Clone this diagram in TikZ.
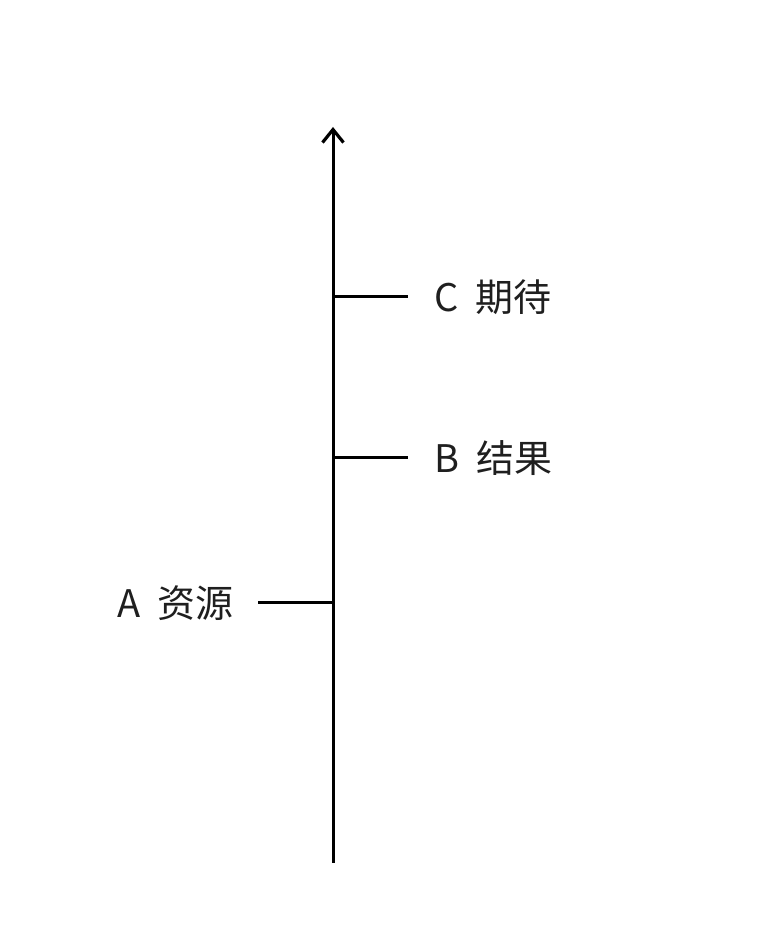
\documentclass[tikz,border=0pt]{standalone}
\usepackage{fontspec}
\setmainfont{Noto Sans CJK SC}
\usetikzlibrary{positioning, arrows.meta}
\tikzstyle{axis} = [
    line width=3pt,
    -{Straight Barb[length=13pt,width=21pt,line width=3.2pt]},
]
\tikzstyle{tickline} = [line width=3pt]
\tikzstyle{itemtext} = [
    font=\fontsize{38}{42}\selectfont,
    inner sep=0pt,
    text=black!88,
]
\begin{document}
\begin{tikzpicture}[x=1pt,y=1pt]
    \useasboundingbox (0,0) rectangle (778,948);

    % axis
    \coordinate (bottom) at (333,85);
    \coordinate (top) at (333,821);
    \draw [axis] (bottom) to (top);

    % ticks
    \coordinate (onA) at (333,345);
    \coordinate (endA) at (258,345);
    \coordinate (onB) at (333,490);
    \coordinate (endB) at (408,490);
    \coordinate (onC) at (333,651);
    \coordinate (endC) at (408,651);
    \draw [tickline] (onA) to (endA);
    \draw [tickline] (onB) to (endB);
    \draw [tickline] (onC) to (endC);

    % labels
    \node (textA) [itemtext, left=24pt of endA] {A\hspace{0.45em}资源};
    \node (textB) [itemtext, right=26pt of endB] {B\hspace{0.45em}结果};
    \node (textC) [itemtext, right=26pt of endC] {C\hspace{0.45em}期待};
\end{tikzpicture}
\end{document}
